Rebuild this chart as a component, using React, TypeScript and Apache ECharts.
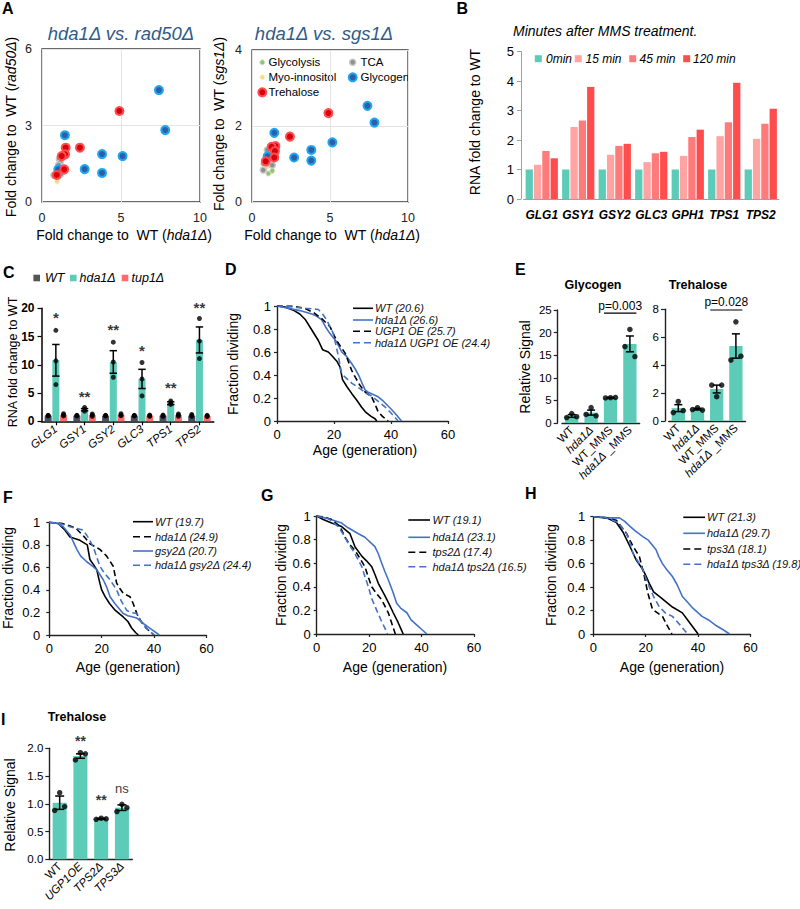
import React, { useEffect, useRef } from 'react';
import * as echarts from 'echarts';

const FONT = 'Liberation Sans, Arial, Helvetica, sans-serif';
const TEAL = '#5ccbb7';
const BLUE = '#4472c4';

// ---------------- Panel A (scatter) ----------------
const A_KEYS = ['Glycolysis', 'Myo-innositol', 'TCA', 'Glycogen', 'Trehalose'];
const A1_GLYCOLYSIS = [[0.9, 0.98]];
const A1_MYO = [[0.95, 0.8]];
const A1_TCA = [[1.1, 1.7], [1.15, 1.55], [1.05, 1.45], [1.2, 1.1], [0.75, 1.05], [1.0, 1.0]];
const A1_GLYCOGEN = [[7.4, 4.39], [7.8, 2.82], [1.45, 2.62], [3.8, 1.88], [5.1, 1.8], [2.7, 1.29], [3.8, 1.14], [1.03, 1.28]];
const A1_TREHALOSE = [[4.9, 3.57], [2.4, 2.13], [1.5, 2.13], [1.46, 1.87], [1.25, 1.8], [1.41, 1.28], [0.93, 1.06]];

const A2_GLYCOLYSIS = [[1.05, 0.75], [1.3, 0.82], [0.72, 1.0]];
const A2_MYO = [[1.05, 1.3], [0.98, 0.93]];
const A2_TCA = [[0.98, 1.37], [1.05, 1.02], [0.72, 0.84], [1.3, 0.97], [1.2, 1.2]];
const A2_GLYCOGEN = [[7.4, 2.53], [7.85, 2.09], [1.43, 1.82], [5.15, 1.57], [3.8, 1.37], [3.8, 1.09], [2.7, 1.17], [1.0, 1.2]];
const A2_TREHALOSE = [[4.9, 2.34], [2.43, 1.72], [1.5, 1.47], [1.26, 1.45], [1.47, 1.34], [1.43, 1.17], [0.88, 1.07]];

const A_X_TICKS = { min: 0, max: 10, interval: 5 };
const A1_Y_TICKS = { min: 0, max: 6, interval: 3 };
const A2_Y_TICKS = { min: 0, max: 4, interval: 2 };

// ---------------- Panel B ----------------
const B_GENES = ['GLG1', 'GSY1', 'GSY2', 'GLC3', 'GPH1', 'TPS1', 'TPS2'];
const B_NAMES = ['0min', '15 min', '45 min', '120 min'];
const B_0 = [1, 1, 1, 1, 1, 1, 1];
const B_15 = [1.16, 2.44, 1.5, 1.25, 1.46, 2.13, 2.04];
const B_45 = [1.63, 2.66, 1.8, 1.55, 2.1, 2.6, 2.55];
const B_120 = [1.38, 3.8, 1.87, 1.6, 2.35, 3.94, 3.06];

// ---------------- Panel C ----------------
const C_GENES = ['GLG1', 'GSY1', 'GSY2', 'GLC3', 'TPS1', 'TPS2'];
const C_NAMES = ['WT', 'hda1Δ', 'tup1Δ'];
const C_WT = [1, 1, 1, 1, 1, 1];
const C_HDA1 = [10.8, 2.05, 10.5, 7.5, 3.2, 14.4];
const C_HDA1_SEM = [2.8, 0.2, 2.0, 1.7, 0.25, 2.3];
const C_TUP1 = [1.15, 1.1, 1.15, 1.0, 1.1, 0.95];
const C_WT_DOTS = [[1.05, 1.0, 0.95], [1.05, 1.0, 0.95], [1.05, 1.0, 0.95], [1.05, 1.0, 0.95], [1.1, 1.0, 0.9], [1.2, 1.0, 0.9]];
const C_HDA1_DOTS = [[16.1, 10.7, 6.5], [2.45, 2.1, 1.8], [14.0, 10.5, 7.8], [10.4, 7.5, 4.5], [3.6, 3.3, 3.0], [18.2, 14.2, 11.1]];
const C_TUP1_DOTS = [[1.35, 1.15, 0.95], [1.3, 1.1, 0.9], [1.35, 1.1, 1.0], [1.1, 1.0, 0.9], [1.3, 1.1, 0.9], [1.05, 0.95, 0.85]];
const C_STARS = ['*', '**', '**', '*', '**', '**'];
const C_STAR_Y = [18.3, 4.45, 16.2, 12.55, 5.9, 20.2];

// ---------------- Panel D ----------------
const D_NAMES = ['WT (20.6)', 'hda1Δ (26.6)', 'UGP1 OE (25.7)', 'hda1Δ UGP1 OE (24.4)'];
const D_WT = [[0, 1], [3, 0.99], [6, 0.96], [8, 0.93], [10, 0.88], [12, 0.8], [14.5, 0.7], [16, 0.62], [18, 0.6], [19.2, 0.57], [21, 0.52], [22.1, 0.47], [23, 0.36], [24.5, 0.3], [26.2, 0.24], [28, 0.18], [29.7, 0.12], [31, 0.08], [33, 0.04], [34.4, 0.02], [35, 0]];
const D_HDA1 = [[0, 1], [4, 0.98], [8, 0.96], [12.2, 0.93], [14, 0.91], [15.7, 0.88], [17, 0.82], [18.6, 0.76], [20.9, 0.69], [21.5, 0.66], [22.7, 0.6], [24.5, 0.56], [26.2, 0.5], [27.5, 0.45], [28.8, 0.39], [30, 0.32], [30.9, 0.27], [32, 0.25], [35.5, 0.21], [37, 0.18], [40.2, 0.1], [42, 0.05], [43.7, 0]];
const D_UGP1 = [[0, 1], [5, 1], [9.8, 0.98], [13, 0.94], [15.7, 0.89], [18.6, 0.82], [20.9, 0.7], [22, 0.66], [23.9, 0.59], [25, 0.52], [26.2, 0.44], [27.5, 0.38], [29.1, 0.31], [31, 0.25], [33.2, 0.21], [34.5, 0.14], [35.5, 0.08], [37, 0.04], [39, 0]];
const D_HDA1_UGP1 = [[0, 1], [6, 0.99], [10, 0.98], [14.5, 0.97], [16, 0.93], [17.4, 0.88], [19.8, 0.76], [20.5, 0.68], [21.3, 0.59], [22, 0.5], [22.7, 0.41], [24, 0.38], [26.2, 0.33], [28, 0.3], [30.9, 0.25], [33, 0.22], [35.5, 0.17], [38, 0.12], [40, 0.07], [42.5, 0]];

// ---------------- Panel E ----------------
const E_CATS = ['WT', 'hda1Δ', 'WT_MMS', 'hda1Δ _MMS'];
const E_GLY = [1.55, 2.3, 5.6, 17.5];
const E_GLY_SEM = [0.3, 0.55, 0.06, 1.75];
const E_GLY_DOTS = [[2.1, 1.2, 1.4], [3.4, 1.9, 1.6], [5.6, 5.55, 5.65], [20.7, 16.9, 14.7]];
const E_TRE = [0.92, 0.85, 2.29, 5.37];
const E_TRE_SEM = [0.25, 0.06, 0.28, 0.87];
const E_TRE_DOTS = [[1.4, 0.6, 0.75], [0.95, 0.82, 0.78], [1.74, 2.57, 2.57], [7.1, 4.36, 4.64]];
const E_GLY_P = [[2, 3, 24.3]];
const E_GLY_P_TEXT = 'p=0.003';
const E_TRE_P = [[2, 3, 7.95]];
const E_TRE_P_TEXT = 'p=0.028';

// ---------------- Panel F ----------------
const F_NAMES = ['WT (19.7)', 'hda1Δ (24.9)', 'gsy2Δ (20.7)', 'hda1Δ gsy2Δ (24.4)'];
const F_WT = [[0, 1], [3.4, 0.99], [6, 0.93], [7.9, 0.87], [11.7, 0.84], [14.5, 0.8], [15.5, 0.67], [17, 0.62], [18.1, 0.58], [19.3, 0.46], [20, 0.4], [21.3, 0.34], [23, 0.28], [25.1, 0.22], [28.2, 0.16], [30, 0.12], [31.5, 0.06], [33, 0.02], [34, 0]];
const F_HDA1 = [[0, 1], [5, 0.99], [10, 0.95], [13, 0.88], [15.5, 0.81], [19.3, 0.76], [21.9, 0.7], [24.4, 0.61], [25.7, 0.46], [27, 0.41], [28.2, 0.37], [30.8, 0.34], [32, 0.28], [33.4, 0.19], [35, 0.12], [37, 0.06], [40, 0]];
const F_GSY2 = [[0, 1], [3, 0.99], [5.3, 0.96], [7.9, 0.89], [10.5, 0.76], [12, 0.7], [14.3, 0.65], [16, 0.62], [18.1, 0.58], [20.6, 0.49], [22, 0.42], [23.2, 0.34], [25, 0.28], [28.2, 0.19], [30, 0.17], [33.4, 0.15], [36, 0.1], [39, 0.05], [42, 0]];
const F_HDA1_GSY2 = [[0, 1], [4, 0.99], [7.9, 0.96], [13, 0.93], [15, 0.86], [16.8, 0.78], [18, 0.7], [19.3, 0.61], [21, 0.55], [23.2, 0.49], [25.7, 0.4], [27.5, 0.3], [29.5, 0.22], [31, 0.2], [33.4, 0.19], [35, 0.12], [37.5, 0.05], [40, 0]];

// ---------------- Panel G ----------------
const G_NAMES = ['WT (19.1)', 'hda1Δ (23.1)', 'tps2Δ (17.4)', 'hda1Δ tps2Δ (16.5)'];
const G_WT = [[0, 1], [2.5, 0.97], [5.7, 0.94], [9.5, 0.91], [12.7, 0.85], [14.6, 0.74], [17.2, 0.66], [19, 0.62], [21, 0.57], [22.3, 0.5], [23.5, 0.43], [26.1, 0.32], [27.5, 0.26], [29.2, 0.18], [31, 0.1], [32, 0.05], [33, 0]];
const G_HDA1 = [[0, 1], [4, 0.98], [9.5, 0.94], [12, 0.9], [15.9, 0.85], [18.4, 0.82], [22.2, 0.74], [23.5, 0.68], [24.8, 0.6], [26, 0.53], [27.3, 0.46], [29, 0.36], [30.5, 0.26], [32, 0.22], [34.4, 0.18], [36, 0.12], [38, 0.08], [40, 0.04], [42, 0]];
const G_TPS2 = [[0, 1], [3, 0.99], [5.7, 0.97], [8.9, 0.91], [10.8, 0.82], [12.5, 0.76], [14.6, 0.71], [16.5, 0.64], [18.4, 0.57], [19.7, 0.48], [21, 0.4], [22.9, 0.34], [24.8, 0.29], [27.3, 0.18], [28.5, 0.1], [30, 0]];
const G_HDA1_TPS2 = [[0, 1], [2, 0.99], [4.4, 0.98], [8.2, 0.91], [10, 0.85], [12, 0.77], [14.6, 0.68], [17.2, 0.57], [18.5, 0.48], [19.7, 0.4], [21, 0.3], [22.9, 0.2], [24.5, 0.12], [26, 0.05], [27, 0]];

// ---------------- Panel H ----------------
const H_NAMES = ['WT (21.3)', 'hda1Δ (29.7)', 'tps3Δ (18.1)', 'hda1Δ tps3Δ (19.8)'];
const H_WT = [[0, 1], [5.1, 0.99], [8.8, 0.95], [11.3, 0.87], [13.9, 0.75], [16.4, 0.63], [18.9, 0.55], [20, 0.5], [21.4, 0.43], [23, 0.36], [25.2, 0.32], [28, 0.27], [30.2, 0.23], [34, 0.18], [36, 0.12], [38, 0.06], [40, 0]];
const H_HDA1 = [[0, 1], [6, 0.99], [10, 0.99], [12, 0.96], [13.9, 0.92], [16, 0.88], [18.9, 0.83], [21, 0.8], [23.9, 0.72], [25, 0.66], [26.4, 0.6], [28, 0.55], [30.2, 0.49], [32, 0.42], [34, 0.32], [36, 0.27], [38, 0.22], [41.5, 0.15], [44, 0.12], [47, 0.07], [50, 0.03], [52, 0]];
const H_TPS3 = [[0, 1], [5, 0.99], [8.8, 0.97], [10.5, 0.92], [12.6, 0.86], [15.1, 0.75], [17.6, 0.66], [18.5, 0.58], [19.5, 0.49], [20.8, 0.35], [22.6, 0.21], [24.5, 0.18], [26.4, 0.15], [28, 0.08], [30, 0]];
const H_HDA1_TPS3 = [[0, 1], [5, 0.99], [9.4, 0.95], [12.6, 0.86], [14, 0.78], [15.1, 0.69], [17, 0.62], [18.9, 0.55], [20, 0.48], [21.4, 0.4], [23, 0.32], [25.2, 0.23], [27.5, 0.18], [30.2, 0.15], [33, 0.08], [36, 0]];

const SURV_X_TICKS = { min: 0, max: 60, interval: 20 };
const SURV_Y_TICKS = { min: 0, max: 1, interval: 0.2 };

// ---------------- Panel I ----------------
const I_CATS = ['WT', 'UGP1OE', 'TPS2Δ', 'TPS3Δ'];
const I_MEAN = [1.02, 1.86, 0.73, 0.93];
const I_SEM = [0.12, 0.04, 0.01, 0.05];
const I_DOTS = [[1.2, 0.88, 0.95], [1.92, 1.79, 1.9], [0.74, 0.72, 0.73], [0.99, 0.86, 0.93]];
const I_STARS = ['', '**', '**', 'ns'];
const I_STAR_Y = [0, 2.13, 1.065, 1.28];

// ---------------- styles ----------------
const A_STYLES: any = {
  Glycolysis: { size: 5, color: '#95c27a', border: '#cfe4c0', bw: 1 },
  'Myo-innositol': { size: 5, color: '#f5dc86', border: '#fff3c8', bw: 1 },
  TCA: { size: 6, color: '#8f8f8f', border: '#c6c6c6', bw: 1.5 },
  Glycogen: { size: 8, color: '#2f5ea8', border: '#1ea6f0', bw: 2 },
  Trehalose: { size: 8, color: '#d9000d', border: '#ff4d4d', bw: 2 },
};
const JITTER = [0, -5, 5];

function aSeries(gi: number, sets: any[]) {
  return A_KEYS.map((k, i) => ({
    type: 'scatter', xAxisIndex: gi, yAxisIndex: gi, data: sets[i],
    symbolSize: A_STYLES[k].size,
    itemStyle: { color: A_STYLES[k].color, borderColor: A_STYLES[k].border, borderWidth: A_STYLES[k].bw, opacity: 1 },
    z: 3 + i,
  }));
}

const errRender = (cap: number) => (params: any, api: any) => {
  const x = api.value(0), m = api.value(1), s = api.value(2);
  const t = api.coord([x, m + s]);
  const b = api.coord([x, m - s]);
  const st = { stroke: '#000', lineWidth: 1.5 };
  return {
    type: 'group', children: [
      { type: 'line', shape: { x1: t[0], y1: t[1], x2: b[0], y2: b[1] }, style: st },
      { type: 'line', shape: { x1: t[0] - cap, y1: t[1], x2: t[0] + cap, y2: t[1] }, style: st },
      { type: 'line', shape: { x1: b[0] - cap, y1: b[1], x2: b[0] + cap, y2: b[1] }, style: st },
    ],
  };
};

const pRender = (label: string, half: number) => (params: any, api: any) => {
  const a = api.coord([api.value(0), api.value(2)]);
  const b = api.coord([api.value(1), api.value(2)]);
  return {
    type: 'group', children: [
      { type: 'line', shape: { x1: a[0] - half, y1: a[1], x2: b[0] + half, y2: b[1] }, style: { stroke: '#000', lineWidth: 1.2 } },
      { type: 'text', x: (a[0] + b[0]) / 2, y: a[1] - 1.5, style: { text: label, fontSize: 12, fontFamily: FONT, fill: '#000', textAlign: 'center', textVerticalAlign: 'bottom', align: 'center', verticalAlign: 'bottom' } },
    ],
  };
};

function errSeries(gi: number, means: number[], sems: number[], cap: number) {
  return {
    type: 'custom', xAxisIndex: gi, yAxisIndex: gi, renderItem: errRender(cap),
    data: means.map((m, i) => [i, m, sems[i]]), encode: { x: 0, y: 1 }, z: 4, clip: false,
  };
}

function dotSeries(gi: number, dots: number[][], offset: number | null, size: number) {
  const data: any[] = [];
  dots.forEach((arr, i) => arr.forEach((v, j) => {
    data.push({ value: [i, v], symbolOffset: [offset === null ? JITTER[j] : offset, 0] });
  }));
  return { type: 'scatter', xAxisIndex: gi, yAxisIndex: gi, data, symbolSize: size, itemStyle: { color: '#000' }, z: 5, clip: false };
}

function starSeries(gi: number, labels: string[], ys: number[], size: number) {
  const data: any[] = [];
  labels.forEach((l, i) => {
    if (!l) return;
    const item: any = { value: [i, ys[i]], name: l };
    if (l === 'ns') item.label = { fontWeight: 'normal', fontSize: 13 };
    data.push(item);
  });
  return {
    type: 'scatter', xAxisIndex: gi, yAxisIndex: gi, data, symbolSize: 1, clip: false,
    itemStyle: { color: 'rgba(0,0,0,0)' },
    label: { show: true, position: 'inside', formatter: '{b}', fontSize: size, fontWeight: 'bold', color: '#000', fontFamily: FONT },
    z: 6,
  };
}

function survSeries(gi: number, sets: any[]) {
  return sets.map((s: any) => ({
    type: 'line', xAxisIndex: gi, yAxisIndex: gi, data: s.data, symbol: 'none', showSymbol: false,
    lineStyle: { color: s.color, width: 1.6, type: s.dashed ? [6, 3.5] : 'solid' }, z: 3,
  }));
}

function txt(x: number, y: number, text: string, o: any = {}) {
  const style: any = {
    text, fontFamily: FONT, fontSize: o.size || 13, fontStyle: o.italic ? 'italic' : 'normal',
    fontWeight: o.bold ? 'bold' : 'normal', fill: o.color || '#000',
    textAlign: o.align || 'left', textVerticalAlign: 'middle', align: o.align || 'left', verticalAlign: 'middle',
  };
  if (o.rich) style.rich = o.rich;
  return { type: 'text', x, y, rotation: o.rot || 0, silent: true, style };
}

function richName(plain: string, ital: string, size: number) {
  return {
    text: `{n|${plain}(}{i|${ital}}{n|)}`,
    rich: {
      n: { fontSize: size, fontFamily: FONT, fill: '#000' },
      i: { fontSize: size, fontFamily: FONT, fontStyle: 'italic', fill: '#000' },
    },
  };
}

function legendSurv(x1: number, x2: number, xt: number, ys: number[], sets: any[]) {
  const out: any[] = [];
  sets.forEach((s: any, i: number) => {
    out.push({ type: 'line', silent: true, shape: { x1, y1: ys[i], x2, y2: ys[i] }, style: { stroke: s.color, lineWidth: 1.6, lineDash: s.dashed ? [7, 4] : null } });
    out.push(txt(xt, ys[i], s.name, { size: 11, italic: true, color: '#111' }));
  });
  return out;
}

function buildOption() {
  const axisBlack = { show: true, onZero: false, lineStyle: { color: '#222', width: 1.4 } };
  const tickBlack = { show: true, length: 3, lineStyle: { color: '#222', width: 1.2 } };

  const aX = (gi: number) => ({ type: 'value', gridIndex: gi, ...A_X_TICKS, axisLine: { show: false }, axisTick: { show: false }, splitLine: { show: true, lineStyle: { color: '#e4e4e4' } }, axisLabel: { fontSize: 12.5, color: '#222', margin: 9 } });
  const aY = (gi: number, t: any) => ({ type: 'value', gridIndex: gi, ...t, axisLine: { show: false }, axisTick: { show: false }, splitLine: { show: true, lineStyle: { color: '#e4e4e4' } }, axisLabel: { fontSize: 12.5, color: '#222', margin: 10 } });
  const sX = (gi: number) => ({ type: 'value', gridIndex: gi, ...SURV_X_TICKS, axisLine: axisBlack, axisTick: tickBlack, splitLine: { show: false }, axisLabel: { fontSize: 13, color: '#000', margin: 7 } });
  const sY = (gi: number, margin: number) => ({ type: 'value', gridIndex: gi, ...SURV_Y_TICKS, axisLine: axisBlack, axisTick: tickBlack, splitLine: { show: false }, axisLabel: { fontSize: 13, color: '#000', margin } });
  const italRich = { i: { fontStyle: 'italic', fontSize: 11.5, color: '#000', fontFamily: FONT } };
  const barCatX = (gi: number, data: string[], fmt: any) => ({
    type: 'category', gridIndex: gi, data, axisLine: axisBlack, axisTick: { show: false },
    axisLabel: { rotate: 45, fontSize: 11.5, color: '#000', interval: 0, margin: 5, formatter: fmt, rich: italRich },
  });
  const barValY = (gi: number, min: number, max: number, interval: number, offset: number, fmt?: any) => ({
    type: 'value', gridIndex: gi, min, max, interval, offset, axisLine: axisBlack,
    axisTick: { show: true, length: 4, lineStyle: { color: '#222', width: 1.2 } }, splitLine: { show: false },
    axisLabel: { fontSize: 11.5, color: '#000', margin: 6, formatter: fmt },
  });

  const grid = [
    { left: 42, top: 49, width: 158, height: 153, show: true, borderColor: '#3a3a3a', borderWidth: 1.3 },
    { left: 252, top: 50, width: 156, height: 152, show: true, borderColor: '#3a3a3a', borderWidth: 1.3 },
    { left: 523.5, top: 51.5, width: 255.5, height: 147.5 },
    { left: 41.5, top: 308.3, width: 172.3, height: 113 },
    { left: 277, top: 306, width: 171, height: 115 },
    { left: 562, top: 310, width: 77.6, height: 113 },
    { left: 668.7, top: 309.3, width: 76.8, height: 111.7 },
    { left: 49.3, top: 522.3, width: 157.2, height: 112.7 },
    { left: 316.7, top: 516, width: 157.3, height: 118 },
    { left: 593.3, top: 516.7, width: 157.2, height: 117.3 },
    { left: 49.3, top: 748.3, width: 83, height: 111 },
  ];

  const eFmt = (v: string) => v.replace('hda1Δ', '{i|hda1Δ}');
  const iFmt = (v: string) => (v === 'WT' ? v : `{i|${v}}`);

  const xAxis = [
    aX(0), aX(1),
    { type: 'category', gridIndex: 2, data: B_GENES, axisLine: { show: true, lineStyle: { color: '#a0a0a0' } }, axisTick: { show: false }, axisLabel: { fontSize: 12, fontStyle: 'italic', fontWeight: 'bold', color: '#000', margin: 10, interval: 0 } },
    { type: 'category', gridIndex: 3, data: C_GENES, axisLine: { show: true, onZero: false, lineStyle: { color: '#000', width: 1.5 } }, axisTick: { show: true, alignWithLabel: true, length: 4, lineStyle: { color: '#000', width: 1.2 } }, axisLabel: { rotate: 38, fontSize: 11.5, fontStyle: 'italic', color: '#000', margin: 6, interval: 0 } },
    sX(4),
    barCatX(5, E_CATS, eFmt), barCatX(6, E_CATS, eFmt),
    sX(7), sX(8), sX(9),
    barCatX(10, I_CATS, iFmt),
  ];
  const yAxis = [
    aY(0, A1_Y_TICKS), aY(1, A2_Y_TICKS),
    { type: 'value', gridIndex: 2, min: 0, max: 5, interval: 1, offset: 2.5, axisLine: { show: true, lineStyle: { color: '#a0a0a0' } }, axisTick: { show: true, length: 4, lineStyle: { color: '#a0a0a0' } }, splitLine: { show: false }, axisLabel: { fontSize: 13, color: '#000', margin: 7 } },
    { type: 'value', gridIndex: 3, min: 0, max: 20, interval: 5, axisLine: { show: true, onZero: false, lineStyle: { color: '#000', width: 1.5 } }, axisTick: { show: true, length: 4, lineStyle: { color: '#000', width: 1.2 } }, splitLine: { show: false }, axisLabel: { fontSize: 12, fontWeight: 'bold', color: '#000', margin: 7 } },
    sY(4, 6),
    barValY(5, 0, 25, 5, 4.3), barValY(6, 0, 8, 2, 3.7),
    sY(7, 9), sY(8, 6), sY(9, 8),
    barValY(10, 0, 2, 0.5, 0, (v: number) => v.toFixed(1)),
  ];

  const dSets = [
    { name: D_NAMES[0], data: D_WT, color: '#000', dashed: false },
    { name: D_NAMES[1], data: D_HDA1, color: BLUE, dashed: false },
    { name: D_NAMES[2], data: D_UGP1, color: '#000', dashed: true },
    { name: D_NAMES[3], data: D_HDA1_UGP1, color: BLUE, dashed: true },
  ];
  const fSets = [
    { name: F_NAMES[0], data: F_WT, color: '#000', dashed: false },
    { name: F_NAMES[1], data: F_HDA1, color: '#000', dashed: true },
    { name: F_NAMES[2], data: F_GSY2, color: BLUE, dashed: false },
    { name: F_NAMES[3], data: F_HDA1_GSY2, color: BLUE, dashed: true },
  ];
  const gSets = [
    { name: G_NAMES[0], data: G_WT, color: '#000', dashed: false },
    { name: G_NAMES[1], data: G_HDA1, color: BLUE, dashed: false },
    { name: G_NAMES[2], data: G_TPS2, color: '#000', dashed: true },
    { name: G_NAMES[3], data: G_HDA1_TPS2, color: BLUE, dashed: true },
  ];
  const hSets = [
    { name: H_NAMES[0], data: H_WT, color: '#000', dashed: false },
    { name: H_NAMES[1], data: H_HDA1, color: BLUE, dashed: false },
    { name: H_NAMES[2], data: H_TPS3, color: '#000', dashed: true },
    { name: H_NAMES[3], data: H_HDA1_TPS3, color: BLUE, dashed: true },
  ];

  const bColors = [TEAL, '#ffa3a3', '#ff7b7b', '#ff4d4d'];
  const bData = [B_0, B_15, B_45, B_120];
  const cColors = ['#4b4e5e', TEAL, '#ff6b6b'];
  const cData = [C_WT, C_HDA1, C_TUP1];

  const series: any[] = [
    ...aSeries(0, [A1_GLYCOLYSIS, A1_MYO, A1_TCA, A1_GLYCOGEN, A1_TREHALOSE]),
    ...aSeries(1, [A2_GLYCOLYSIS, A2_MYO, A2_TCA, A2_GLYCOGEN, A2_TREHALOSE]),
    ...bData.map((d, i) => ({ type: 'bar', name: B_NAMES[i], xAxisIndex: 2, yAxisIndex: 2, data: d, barWidth: 7.3, barGap: '14%', itemStyle: { color: bColors[i] } })),
    ...cData.map((d, i) => ({ type: 'bar', name: C_NAMES[i], xAxisIndex: 3, yAxisIndex: 3, data: d, barWidth: 7, barGap: '10%', itemStyle: { color: cColors[i] }, z: 2 })),
    errSeries(3, C_HDA1, C_HDA1_SEM, 3.7),
    dotSeries(3, C_WT_DOTS, -7.7, 5),
    dotSeries(3, C_HDA1_DOTS, 0, 5),
    dotSeries(3, C_TUP1_DOTS, 7.7, 5),
    starSeries(3, C_STARS, C_STAR_Y, 15),
    ...survSeries(4, dSets),
    { type: 'bar', xAxisIndex: 5, yAxisIndex: 5, data: E_GLY, barWidth: 13.3, itemStyle: { color: TEAL }, z: 2 },
    errSeries(5, E_GLY, E_GLY_SEM, 4),
    dotSeries(5, E_GLY_DOTS, null, 5.5),
    { type: 'custom', xAxisIndex: 5, yAxisIndex: 5, renderItem: pRender(E_GLY_P_TEXT, 6.5), data: E_GLY_P, encode: { x: [0, 1], y: 2 }, clip: false, z: 6 },
    { type: 'bar', xAxisIndex: 6, yAxisIndex: 6, data: E_TRE, barWidth: 13.3, itemStyle: { color: TEAL }, z: 2 },
    errSeries(6, E_TRE, E_TRE_SEM, 4),
    dotSeries(6, E_TRE_DOTS, null, 5.5),
    { type: 'custom', xAxisIndex: 6, yAxisIndex: 6, renderItem: pRender(E_TRE_P_TEXT, 6.5), data: E_TRE_P, encode: { x: [0, 1], y: 2 }, clip: false, z: 6 },
    ...survSeries(7, fSets),
    ...survSeries(8, gSets),
    ...survSeries(9, hSets),
    { type: 'bar', xAxisIndex: 10, yAxisIndex: 10, data: I_MEAN, barWidth: 14, itemStyle: { color: TEAL }, z: 2 },
    errSeries(10, I_MEAN, I_SEM, 4.5),
    dotSeries(10, I_DOTS, null, 5.5),
    starSeries(10, I_STARS, I_STAR_Y, 14),
  ];

  const R = Math.PI / 2;
  const titleBlue = '#2e5c8a';
  const graphic: any[] = [
    txt(2, 8, 'A', { size: 16, bold: true }),
    txt(456.5, 8, 'B', { size: 16, bold: true }),
    txt(3, 272, 'C', { size: 16, bold: true }),
    txt(225, 269, 'D', { size: 16, bold: true }),
    txt(515, 269, 'E', { size: 16, bold: true }),
    txt(3, 497, 'F', { size: 16, bold: true }),
    txt(261, 495, 'G', { size: 16, bold: true }),
    txt(525, 493, 'H', { size: 16, bold: true }),
    txt(1, 719, 'I', { size: 16, bold: true }),
    txt(121, 33, 'hda1Δ vs. rad50Δ', { size: 18.5, italic: true, color: titleBlue, align: 'center' }),
    txt(324, 33, 'hda1Δ vs. sgs1Δ', { size: 18.5, italic: true, color: titleBlue, align: 'center' }),
  ];
  const n1 = richName('Fold change to  WT ', 'rad50Δ', 14);
  graphic.push(txt(11, 127, n1.text, { rot: R, align: 'center', rich: n1.rich, size: 14 }));
  const n2 = richName('Fold change to  WT ', 'sgs1Δ', 14);
  graphic.push(txt(219, 124, n2.text, { rot: R, align: 'center', rich: n2.rich, size: 14 }));
  const n3 = richName('Fold change to  WT ', 'hda1Δ', 14);
  graphic.push(txt(124, 235, n3.text, { align: 'center', rich: n3.rich, size: 14 }));
  graphic.push(txt(332, 235, n3.text, { align: 'center', rich: n3.rich, size: 14 }));

  const legPos = [[262.3, 62.3, 268.5], [262.3, 77.3, 268.5], [352.7, 62.3, 360.5], [352.7, 77.3, 360.5], [262.3, 92.3, 268.5]];
  A_KEYS.forEach((k, i) => {
    const st = A_STYLES[k];
    const [cx, cy, tx] = legPos[i];
    graphic.push({ type: 'circle', silent: true, shape: { cx, cy, r: st.size / 2 }, style: { fill: st.color, stroke: st.border, lineWidth: st.bw } });
    graphic.push(txt(tx, cy, k, { size: 11.5 }));
  });

  graphic.push(txt(513, 31, 'Minutes after MMS treatment.', { size: 14, italic: true }));
  const bLeg = [[538.3, 546], [578.3, 585.5], [632.7, 639.5], [686.7, 693]];
  B_NAMES.forEach((nm, i) => {
    graphic.push({ type: 'rect', silent: true, shape: { x: bLeg[i][0] - 3.5, y: 58.7 - 3.5, width: 7, height: 7 }, style: { fill: bColors[i] } });
    graphic.push(txt(bLeg[i][1], 58.7, nm, { size: 12, italic: true }));
  });
  graphic.push(txt(475, 122, 'RNA fold change to WT', { size: 14, rot: R, align: 'center' }));

  const cLeg = [[36.7, 45], [73.3, 79.5], [125, 131.5]];
  C_NAMES.forEach((nm, i) => {
    graphic.push({ type: 'rect', silent: true, shape: { x: cLeg[i][0] - 3.3, y: 278 - 3.3, width: 6.6, height: 6.6 }, style: { fill: i === 0 ? '#555555' : cColors[i] } });
    graphic.push(txt(cLeg[i][1], 278, nm, { size: 12.5, italic: true }));
  });
  graphic.push(txt(13, 362, 'RNA fold change to WT', { size: 12.5, rot: R, align: 'center' }));

  graphic.push(txt(233, 364, 'Fraction dividing', { size: 14, rot: R, align: 'center' }));
  graphic.push(txt(365, 450, 'Age (generation)', { size: 14, align: 'center' }));
  graphic.push(...legendSurv(353, 373, 375, [308.3, 320, 331.3, 342.7], dSets));

  graphic.push(txt(593, 285, 'Glycogen', { size: 12.5, bold: true, align: 'center' }));
  graphic.push(txt(698, 285, 'Trehalose', { size: 12.5, bold: true, align: 'center' }));
  graphic.push(txt(525, 367, 'Relative Signal', { size: 14, rot: R, align: 'center' }));

  graphic.push(txt(8, 578, 'Fraction dividing', { size: 14, rot: R, align: 'center' }));
  graphic.push(txt(128, 667, 'Age (generation)', { size: 14, align: 'center' }));
  graphic.push(...legendSurv(133, 153, 155, [521.7, 536.7, 551, 565.3], fSets));

  graphic.push(txt(281, 575, 'Fraction dividing', { size: 14, rot: R, align: 'center' }));
  graphic.push(txt(395, 667, 'Age (generation)', { size: 14, align: 'center' }));
  graphic.push(...legendSurv(408.3, 430, 432.5, [520, 537.3, 552.3, 566.7], gSets));

  graphic.push(txt(551, 575, 'Fraction dividing', { size: 14, rot: R, align: 'center' }));
  graphic.push(txt(672, 667, 'Age (generation)', { size: 14, align: 'center' }));
  graphic.push(...legendSurv(683.3, 705, 707, [517.3, 533.3, 549, 564.3], hSets));

  graphic.push(txt(77, 717, 'Trehalose', { size: 12.5, bold: true, align: 'center' }));
  graphic.push(txt(10, 805, 'Relative Signal', { size: 14, rot: R, align: 'center' }));

  return {
    animation: false,
    backgroundColor: '#ffffff',
    textStyle: { fontFamily: FONT },
    grid, xAxis, yAxis, series, graphic,
  };
}

export default function App() {
  const ref = useRef<HTMLDivElement>(null);
  useEffect(() => {
    const chart = echarts.init(ref.current as HTMLDivElement, null, { renderer: 'svg' });
    chart.setOption(buildOption() as any);
    return () => chart.dispose();
  }, []);
  return <div ref={ref} style={{ position: 'absolute', left: 0, top: 0, width: 800, height: 909, background: '#fff' }} />;
}
